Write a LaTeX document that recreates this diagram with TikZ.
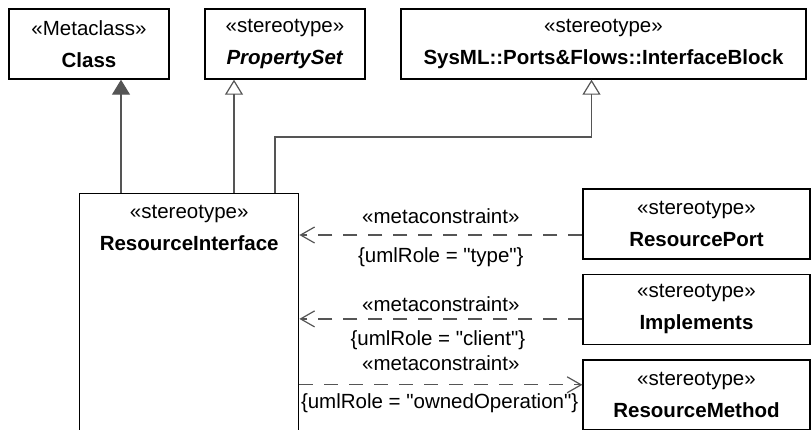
\documentclass[tikz,border=0pt]{standalone}
\usepackage{fontspec}
\setmainfont{Liberation Sans}
\usetikzlibrary{arrows.meta, positioning, calc}
\definecolor{lngray}{HTML}{555555}

\begin{document}
\begin{tikzpicture}[x=1pt, y=-1pt,
        font=\fontsize{20.5}{32}\selectfont,
        node distance=14pt,
        box/.style={rectangle, draw=black, line width=1.4pt,
                    minimum height=70pt, align=center, inner sep=0pt},
        lbl/.style={font=\fontsize{20.5}{24}\selectfont, inner sep=0pt},
        gen/.style={draw=lngray, line width=1.2pt,
                    -{Triangle[open, length=15pt, width=18pt]}},
        genfill/.style={draw=lngray, line width=1.2pt,
                    -{Triangle[length=15pt, width=18pt]}},
        dep/.style={draw=lngray, line width=1.2pt, dash pattern=on 14pt off 11pt,
                    -{Straight Barb[length=14pt, width=16pt]}}
      ]
      \useasboundingbox (0,0) rectangle (811,429);

      \node[box, minimum width=160pt] (cls)    at (89,44)    {«Metaclass»\\\textbf{Class}};
      \node[box, minimum width=160pt] (pset)   at (285,44)   {«stereotype»\\\textbf{\textit{PropertySet}}};
      \node[box, minimum width=405pt] (iblock) at (603.5,44) {«stereotype»\\\textbf{SysML::Ports\&Flows::InterfaceBlock}};

      \node[box, minimum width=219pt, minimum height=270pt, anchor=north west] (rint) at (79,193) {};
      \node[align=center] (rintlbl) at ([yshift=-34.5pt]rint.north) {«stereotype»\\\textbf{ResourceInterface}};

      \node[box, minimum width=227pt] (rport) at (696.5,224) {«stereotype»\\\textbf{ResourcePort}};
      \node[box, minimum width=227pt, below=of rport] (impl)  {«stereotype»\\\textbf{Implements}};
      \node[box, minimum width=227pt, below=of impl]  (rmeth) {«stereotype»\\\textbf{ResourceMethod}};

      \coordinate (clsfoot) at ([xshift=42pt]rint.north west);
      \coordinate (psfoot)  at ([xshift=155pt]rint.north west);
      \coordinate (ibfoot)  at ([xshift=196pt]rint.north west);
      \coordinate (ibhead)  at ([xshift=-12pt]iblock.south);
      \draw[genfill] (clsfoot) -- (clsfoot |- cls.south);
      \draw[gen] (psfoot) -- (psfoot |- pset.south);
      \draw[gen] (ibfoot) -- ++(0,-56) -| (ibhead);

      \coordinate (rpout)  at ([yshift=-11pt]rport.west);
      \coordinate (implout) at ([yshift=-9.5pt]impl.west);
      \coordinate (rmin)   at ([yshift=10pt]rmeth.west);
      \draw[dep] (rpout) -- (rpout -| rint.east)
        node[midway, lbl, yshift=19pt] {«metaconstraint»}
        node[midway, lbl, yshift=-22pt] {\{umlRole = \textquotedbl type\textquotedbl\}};
      \draw[dep] (implout) -- (implout -| rint.east)
        node[midway, lbl, yshift=15pt] {«metaconstraint»}
        node[midway, lbl, yshift=-21pt, xshift=-3pt] {\{umlRole = \textquotedbl client\textquotedbl\}};
      \draw[dep] (rmin -| rint.east) -- (rmin)
        node[midway, lbl, yshift=22pt] {«metaconstraint»}
        node[pos=0, lbl, anchor=west, yshift=-18pt, xshift=1pt] {\{umlRole = \textquotedbl ownedOperation\textquotedbl\}};
    \end{tikzpicture}
\end{document}
